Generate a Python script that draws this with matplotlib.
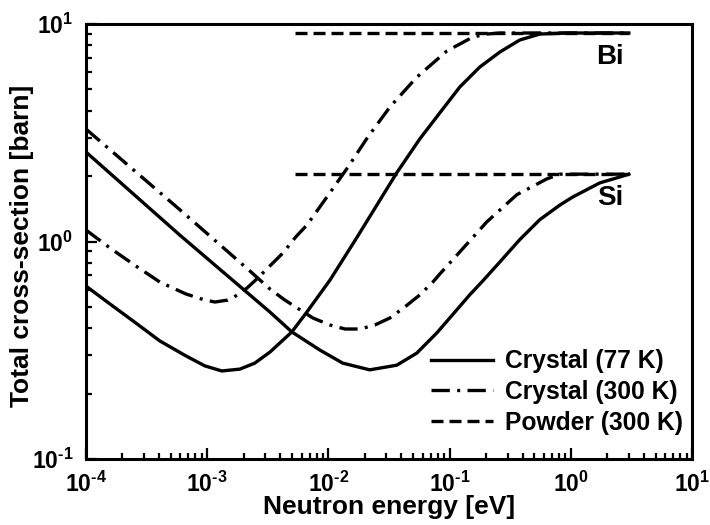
# total cross-section of Bi and Si, crystal vs powder

import numpy as np
import matplotlib
matplotlib.use('Agg')
import matplotlib.pyplot as plt
from matplotlib.ticker import LogLocator, FixedLocator, NullFormatter

plt.rcParams['font.family'] = ['Liberation Sans', 'DejaVu Sans']
plt.rcParams['font.weight'] = 'bold'
plt.rcParams['mathtext.fontset'] = 'custom'
plt.rcParams['mathtext.rm'] = 'Liberation Sans:bold'
plt.rcParams['mathtext.it'] = 'Liberation Sans:bold'
plt.rcParams['mathtext.bf'] = 'Liberation Sans:bold'

# data (energy in eV, cross-section in barn)
bi77_e = [1.00e-4, 1.58e-4, 2.58e-4, 4.07e-4, 6.67e-4, 9.57e-4, 1.32e-3, 1.86e-3,
          2.47e-3, 3.29e-3, 4.99e-3, 6.64e-3, 1.03e-2, 1.71e-2, 3.66e-2, 5.66e-2,
          8.28e-2, 0.121, 0.177, 0.259, 0.378, 0.553, 0.923, 3.0]
bi77_s = [0.624, 0.516, 0.422, 0.349, 0.298, 0.268, 0.254, 0.259,
          0.276, 0.310, 0.384, 0.474, 0.665, 1.04, 2.07, 2.96,
          3.90, 5.13, 6.34, 7.43, 8.44, 8.99, 9.09, 9.09]

bi300_e = [1.00e-4, 1.58e-4, 2.58e-4, 4.07e-4, 6.67e-4, 9.57e-4, 1.16e-3, 1.48e-3,
           1.72e-3, 2.13e-3, 2.62e-3, 3.29e-3, 4.21e-3, 5.38e-3, 6.64e-3, 9.70e-3,
           1.45e-2, 2.11e-2, 3.21e-2, 5.36e-2, 9.46e-2, 0.155, 0.202, 0.259, 3.0]
bi300_s = [1.13, 0.933, 0.772, 0.651, 0.574, 0.538, 0.527, 0.538,
           0.562, 0.611, 0.680, 0.772, 0.885, 1.05, 1.19, 1.60,
           2.20, 3.02, 4.15, 5.70, 7.51, 8.71, 8.99, 9.09, 9.09]

si77_e = [1.00e-4, 5.95e-4, 3.29e-3, 4.99e-3, 8.49e-3, 1.31e-2, 2.19e-2, 3.66e-2,
          5.36e-2, 7.83e-2, 0.114, 0.146, 0.187, 0.259, 0.378, 0.553, 0.809,
          1.03, 1.73, 2.53, 3.0]
si77_s = [2.58, 1.07, 0.474, 0.384, 0.317, 0.276, 0.257, 0.270,
          0.307, 0.380, 0.484, 0.568, 0.658, 0.805, 1.02, 1.26, 1.47,
          1.60, 1.86, 1.98, 2.04]

si300_e = [1.00e-4, 5.95e-4, 2.25e-3, 3.29e-3, 4.37e-3, 7.44e-3, 1.03e-2, 1.37e-2,
           1.82e-2, 2.41e-2, 3.21e-2, 4.26e-2, 5.67e-2, 7.26e-2, 8.29e-2, 0.121,
           0.202, 0.357, 0.632, 0.809, 3.0]
si300_s = [3.29, 1.40, 0.732, 0.605, 0.538, 0.445, 0.413, 0.396,
           0.396, 0.413, 0.445, 0.500, 0.568, 0.651, 0.709, 0.895,
           1.23, 1.64, 1.94, 2.04, 2.04]

powder_e = [5.3e-3, 3.0]
bi_powder = [9.09, 9.09]
si_powder = [2.04, 2.04]

labels = ['Crystal (77 K)', 'Crystal (300 K)', 'Powder (300 K)']
xt = [1e-4, 1e-3, 1e-2, 1e-1, 1e0, 1e1]
yt = [1e-1, 1e0, 1e1]

lw = 2.4
solid = '-'
dashdot = (0, (5.5, 2.2, 0.9, 2.2))
dashed = (0, (3.6, 1.8))

fig = plt.figure(figsize=(7.1, 5.25), dpi=100)
ax = fig.add_axes([0.121, 0.1257, 0.854, 0.8286])

kw = dict(color='black', lw=lw, solid_joinstyle='round', dash_joinstyle='round')
ax.plot(bi77_e, bi77_s, ls=solid, label=labels[0], **kw)
ax.plot(bi300_e, bi300_s, ls=dashdot, label=labels[1], **kw)
ax.plot(powder_e, bi_powder, ls=dashed, label=labels[2], **kw)
ax.plot(si77_e, si77_s, ls=solid, **kw)
ax.plot(si300_e, si300_s, ls=dashdot, **kw)
ax.plot(powder_e, si_powder, ls=dashed, **kw)

ax.set_xscale('log')
ax.set_yscale('log')
ax.set_xlim(1e-4, 10)
ax.set_ylim(0.1, 10)

ax.text(2.09, 7.05, 'Bi', fontsize=20, fontweight='bold', ha='center', va='center')
ax.text(2.09, 1.585, 'Si', fontsize=20, fontweight='bold', ha='center', va='center')

ax.set_xlabel('Neutron energy [eV]', fontsize=19, fontweight='bold')
ax.set_ylabel('Total cross-section [barn]', fontsize=19, fontweight='bold')
ax.xaxis.set_label_coords(0.5, -0.083)
ax.yaxis.set_label_coords(-0.086, 0.49)


def sci(v):
    p = int(round(np.log10(v)))
    if p < 0:
        return '$10^{\u2010%d}$' % (-p)
    return '$10^{%d}$' % p


ax.xaxis.set_major_locator(FixedLocator(xt))
ax.yaxis.set_major_locator(FixedLocator(yt))
ax.set_xticklabels([sci(v) for v in xt])
ax.set_yticklabels([sci(v) for v in yt])
ax.xaxis.set_minor_locator(LogLocator(base=10, subs=np.arange(2, 10), numticks=20))
ax.yaxis.set_minor_locator(LogLocator(base=10, subs=np.arange(2, 10), numticks=20))
ax.xaxis.set_minor_formatter(NullFormatter())
ax.yaxis.set_minor_formatter(NullFormatter())

ax.tick_params(which='both', direction='in', top=False, right=False, width=1.6)
ax.tick_params(which='major', length=8, labelsize=16.5, pad=9)
ax.tick_params(which='minor', length=4.5)
for s in ax.spines.values():
    s.set_linewidth(2.2)

ax.legend(loc='lower right', bbox_to_anchor=(0.985, 0.056), frameon=False,
          fontsize=17.7, handlelength=2.5, handletextpad=0.5, labelspacing=0.27,
          borderaxespad=0, borderpad=0)

plt.savefig('out.png', dpi=100)
